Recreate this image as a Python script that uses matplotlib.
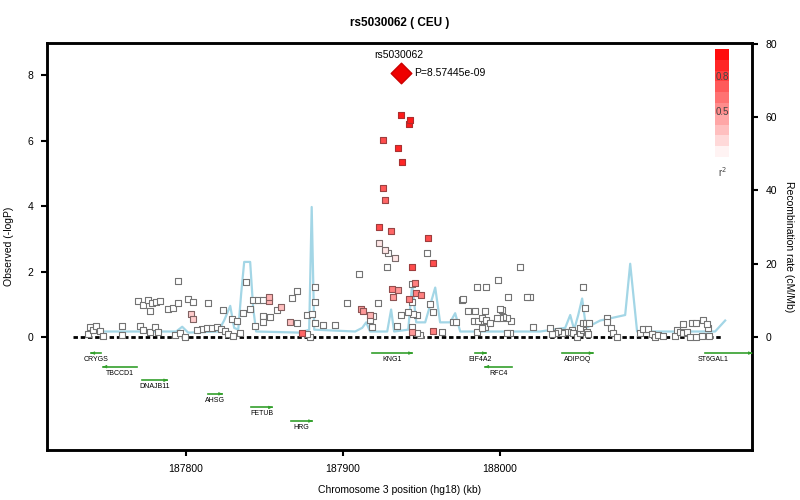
import numpy as np
import matplotlib.pyplot as plt
from matplotlib.colors import LinearSegmentedColormap

plt.rcParams['font.family'] = ['Liberation Sans', 'DejaVu Sans']

# SNP positions (kb), -log10 P and r^2 with the lead SNP
snp_kb = [187737.6, 187738.9, 187740.8, 187742.7, 187745.3, 187747.2, 187759.3, 187759.3,
          187770.7, 187772.7, 187777.1, 187780.3, 187782.2, 187769.5, 187772.7, 187775.8,
          187778.4, 187780.9, 187783.5, 187777.1, 187788.6, 187791.8, 187795.0, 187795.0,
          187801.3, 187804.5, 187803.2, 187804.5, 187814.1, 187793.0, 187796.2, 187799.4,
          187807.0, 187810.2, 187813.4, 187816.6, 187819.8, 187822.3, 187824.9, 187826.8,
          187830.0, 187834.4, 187823.6, 187829.4, 187832.5, 187836.4, 187840.8, 187838.3,
          187842.7, 187845.9, 187849.1, 187852.9, 187852.9, 187844.0, 187849.1, 187849.1,
          187853.5, 187858.0, 187860.6, 187866.3, 187870.8, 187867.6, 187870.8, 187877.1,
          187880.3, 187882.2, 187882.2, 187873.9, 187877.1, 187879.0, 187882.2, 187887.3,
          187894.9, 187902.6, 187910.2, 187911.5, 187912.8, 187917.2, 187919.2, 187917.2,
          187918.5, 187922.3, 187928.1, 187928.7, 187931.3, 187935.1, 187931.9, 187937.0,
          187934.5,
          187953.6, 187957.4, 187944.0, 187944.0, 187945.9, 187946.6, 187949.7, 187942.1,
          187944.0, 187941.5, 187944.6, 187947.2, 187944.0, 187944.0, 187947.2, 187949.1,
          187955.5, 187957.4, 187957.4, 187963.1, 187970.1, 187972.0, 187975.9, 187976.5,
          187979.7, 187984.1, 187990.5, 187985.4, 187991.1, 187998.8, 188012.8, 187983.5,
          187986.0, 187988.6, 187991.1, 187993.7, 187985.4, 187988.6, 187990.5, 187998.2,
          188000.1, 188002.0, 188004.5, 188007.1, 188000.1, 188001.3, 188005.2, 188017.3,
          188019.2, 188004.5, 188006.4, 188021.1,
          188031.9, 188033.2, 188035.1, 188037.0, 188039.6, 188041.5, 188043.4, 188046.0,
          188046.6, 188049.1, 188051.0, 188052.9, 188055.5, 188056.1, 188051.0, 188052.9,
          188054.8, 188056.8, 188052.9, 188054.2, 188068.2, 188068.2, 188070.8, 188072.0,
          188074.6, 188089.2, 188091.2, 188094.4, 188097.0, 188098.8, 188100.8, 188103.9,
          188111.5, 188112.8, 188114.7, 188116.7, 188119.2, 188121.1, 188116.7, 188122.4,
          188124.9, 188129.4, 188131.9, 188132.6, 188124.9, 188128.7, 188133.2,
          187937.0, 187942.7, 187942.1, 187925.5, 187935.1, 187937.6, 187925.5, 187926.8,
          187923.0, 187930.6, 187954.2, 187923.0, 187926.8, 187933.2]
snp_logp = [0.09, 0.31, 0.21, 0.34, 0.18, 0.03, 0.34, 0.06,
            0.34, 0.21, 0.15, 0.31, 0.15, 1.10, 0.98, 1.13,
            1.04, 1.07, 1.10, 0.79, 0.85, 0.88, 1.04, 1.71,
            1.16, 1.07, 0.70, 0.55, 1.04, 0.06, 0.12, 0.00,
            0.21, 0.24, 0.27, 0.27, 0.31, 0.24, 0.18, 0.09,
            0.03, 0.12, 0.82, 0.55, 0.49, 0.73, 0.85, 1.68,
            1.13, 1.13, 1.13, 1.22, 1.10, 0.34, 0.46, 0.64,
            0.61, 0.82, 0.92, 0.46, 0.43, 1.19, 1.40, 0.67,
            0.70, 1.53, 1.07, 0.12, 0.09, 0.00, 0.43, 0.37,
            0.37, 1.04, 1.92, 0.85, 0.79, 0.67, 0.64, 0.52,
            0.31, 1.04, 2.14, 2.56, 1.47, 1.44, 1.22, 0.67,
            0.34,
            2.56, 2.26, 2.14, 1.62, 1.65, 1.34, 1.28, 1.16,
            1.07, 0.76, 0.70, 0.67, 0.31, 0.15, 0.12, 0.06,
            1.01, 0.76, 0.18, 0.15, 0.46, 0.46, 1.13, 1.16,
            0.79, 0.79, 0.79, 1.53, 1.53, 1.74, 2.14, 0.49,
            0.49, 0.58, 0.52, 0.43, 0.15, 0.27, 0.31, 0.58,
            0.58, 0.61, 0.58, 0.49, 0.85, 0.82, 1.22, 1.22,
            1.22, 0.12, 0.12, 0.31,
            0.27, 0.09, 0.12, 0.18, 0.12, 0.15, 0.15, 0.21,
            0.12, 0.00, 0.12, 0.21, 0.15, 0.09, 0.27, 0.43,
            0.43, 0.43, 1.53, 0.88, 0.58, 0.46, 0.27, 0.12,
            0.00, 0.12, 0.24, 0.24, 0.09, 0.00, 0.06, 0.03,
            0.03, 0.21, 0.15, 0.12, 0.15, 0.00, 0.40, 0.43,
            0.43, 0.52, 0.40, 0.27, 0.00, 0.03, 0.03,
            6.78, 6.63, 6.50, 6.02, 5.77, 5.34, 4.55, 4.18,
            3.36, 3.24, 3.02, 2.87, 2.66, 2.41]
snp_r2 = [0] * 26 + [0.2, 0.2] + [0] * 23 + [0.3, 0.3] + [0] * 5 + [0.25, 0.25] + [0] * 7 \
    + [0.6] + [0] * 7 + [0.4, 0.4, 0.3] + [0] * 6 + [0.5, 0.4, 0.4, 0, 0, 0] \
    + [0.7, 0.7, 0, 0.5, 0.5, 0.5, 0.5, 0, 0, 0, 0, 0, 0.4, 0, 0, 0, 0, 0.5] \
    + [0] * 140
snp_r2 = snp_r2[:len(snp_kb) - 14] + [0.9, 0.9, 0.9, 0.7, 0.85, 0.85, 0.65, 0.6,
                                      0.7, 0.6, 0.7, 0.1, 0.1, 0.1]

lead_name = 'rs5030062'
lead_kb = 187937.0
lead_logp = 8.07
lead_p = 'P=8.57445e-09'

# recombination rate (cM/Mb)
recomb_kb = [187742.1, 187777.1, 187793.7, 187797.5, 187801.3, 187820.4, 187824.2, 187828.1,
             187830.6, 187833.2, 187835.1, 187837.0, 187840.8, 187842.7, 187844.6, 187872.6,
             187878.4, 187880.0, 187881.6, 187907.7, 187912.2, 187914.7, 187917.2, 187928.1,
             187930.6, 187932.5, 187941.5, 187944.0, 187946.6, 187952.3, 187958.7, 187961.8,
             187968.2, 187971.4, 187974.6, 188025.5, 188041.5, 188044.7, 188047.2, 188049.8,
             188052.3, 188054.8, 188063.8, 188079.7, 188082.9, 188087.3, 188137.0, 188143.4]
recomb_rate = [1.5, 1.5, 1.5, 2.8, 1.2, 1.5, 4.5, 8.5,
               2.5, 2.0, 12, 20.5, 20.5, 8, 1.5, 1.2,
               2.0, 35.5, 2.0, 1.5, 2.5, 4, 1.5, 1.5,
               7.5, 1.5, 2.0, 14.5, 4, 4, 13.5, 4,
               4, 6.5, 1.5, 1.5, 2.5, 6, 2, 6,
               10.5, 2.5, 4.5, 6, 20, 1.5, 1.5, 4.5]

# genes: name, start, end, strand, row
gene_names = ['CRYGS', 'TBCCD1', 'DNAJB11', 'AHSG', 'FETUB', 'HRG',
              'KNG1', 'EIF4A2', 'RFC4', 'ADIPOQ', 'ST6GAL1']
gene_start = [187739.5, 187747.2, 187772.0, 187814.0, 187841.4, 187867.0,
              187918.5, 187984.0, 187990.5, 188039.5, 188130.6]
gene_end = [187745.9, 187768.8, 187788.0, 187823.0, 187854.8, 187880.3,
            187944.0, 187991.0, 188007.7, 188059.0, 188260.0]
gene_strand = ['-', '-', '+', '+', '+', '+', '+', '+', '-', '+', '+']
gene_row = [0, 1, 2, 3, 4, 5, 0, 0, 1, 0, 0]

xmin, xmax = 187711.5, 188160.5

fig = plt.figure(figsize=(8, 5), dpi=100)
ax = fig.add_axes([0.059, 0.10, 0.881, 0.814])
ax2 = ax.twinx()
ax.set_zorder(ax2.get_zorder() + 1)
ax.patch.set_visible(False)

# recombination line on the right axis
ax2.plot(recomb_kb, recomb_rate, color='#a3d6e6', lw=1.6)
ax2.set_ylim(-30.85, 80.27)
ax2.set_yticks([0, 20, 40, 60, 80])
ax2.set_ylabel('Recombination rate (cM/Mb)', fontsize=7.5, rotation=270, labelpad=12)

cmap = LinearSegmentedColormap.from_list('ld', ['#ffffff', '#ff0000'])
r2 = np.array(snp_r2)
order = np.argsort(r2)
kb = np.array(snp_kb)[order]
lp = np.array(snp_logp)[order]
r2 = r2[order]
edge = [(0.45 + 0.25 * v, 0.45 - 0.3 * v, 0.45 - 0.3 * v) for v in r2]
ax.scatter(kb, lp, s=17, marker='s', c=cmap(r2), edgecolors=edge, linewidths=0.8, zorder=3)

ax.scatter([lead_kb], [lead_logp], s=110, marker='D', c='#ee0000', edgecolors='#cc0000', zorder=4)
ax.text(lead_kb - 1.5, lead_logp + 0.38, lead_name, fontsize=7.5, ha='center', va='bottom')
ax.text(lead_kb + 8.5, lead_logp, lead_p, fontsize=7.5, ha='left', va='center')

# baseline
ax.plot([187728, 188142], [0, 0], color='black', lw=2, ls=(0, (1.6, 1.0)), zorder=2)

# genes
for name, s, e, strand, row in zip(gene_names, gene_start, gene_end, gene_strand, gene_row):
    y = -0.49 - 0.415 * row
    ax.plot([s, e], [y, y], color='#33a02c', lw=1.2, zorder=2, clip_on=True)
    if strand == '+':
        ax.annotate('', xy=(min(e, xmax), y), xytext=(min(e, xmax) - 2, y),
                    arrowprops=dict(arrowstyle='-|>', color='#33a02c', lw=0.8,
                                    mutation_scale=4))
    else:
        ax.annotate('', xy=(s, y), xytext=(s + 2, y),
                    arrowprops=dict(arrowstyle='-|>', color='#33a02c', lw=0.8,
                                    mutation_scale=4))
    mid = (s + min(e, xmax - 20)) / 2
    ax.text(mid, y - 0.2, name, fontsize=5, ha='center', va='center')

ax.set_xlim(xmin, xmax)
ax.set_ylim(-3.45, 8.98)
ax.set_yticks([0, 2, 4, 6, 8])
ax.set_xticks([187800, 187900, 188000])
ax.set_xticklabels(['187800', '187900', '188000'])
ax.set_ylabel('Observed (-logP)', fontsize=7.5, labelpad=10)
ax.set_xlabel('Chromosome 3 position (hg18) (kb)', fontsize=7.5, labelpad=8)
ax.set_title('rs5030062 ( CEU )', fontsize=8.5, fontweight='bold', pad=12)

for a in (ax, ax2):
    for sp in a.spines.values():
        sp.set_linewidth(1.8)
    a.tick_params(width=1.5, length=4, labelsize=7.5, direction='out', pad=6)

# r^2 colour key
cax = fig.add_axes([0.894, 0.686, 0.017, 0.216])
levels = np.linspace(0.05, 0.95, 10).reshape(-1, 1)
cax.imshow(levels, cmap=cmap, vmin=0, vmax=1, aspect='auto', origin='lower',
           extent=[0, 1, 0, 1])
cax.set_xticks([])
cax.set_yticks([])
for sp in cax.spines.values():
    sp.set_visible(False)
cax.text(0.5, 0.74, '0.8', fontsize=7, ha='center', va='center', color='#444444')
cax.text(0.5, 0.42, '0.5', fontsize=7, ha='center', va='center', color='#444444')
cax.text(0.5, -0.14, 'r$^2$', fontsize=7, ha='center', va='center', color='#444444')

fig.savefig('out.png', dpi=100)
